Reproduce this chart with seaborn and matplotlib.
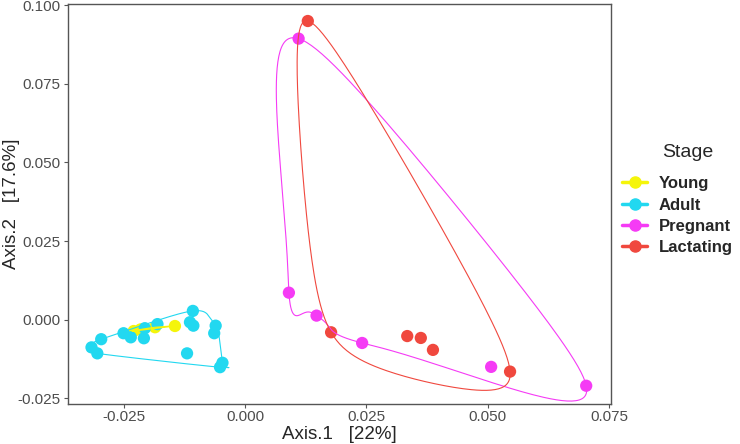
import matplotlib
matplotlib.use("Agg")
import matplotlib.pyplot as plt
from matplotlib.lines import Line2D
import seaborn as sns
import pandas as pd
import numpy as np

sns.set_style("white")
plt.rcParams['font.family'] = ['Liberation Sans', 'DejaVu Sans']

# values
stages = ['Young', 'Adult', 'Pregnant', 'Lactating']
colours = ['#F5F50A', '#22D8F0', '#F53BF5', '#F0483E']

young_x = [-0.0230, -0.0216, -0.0186, -0.0145]
young_y = [-0.0036, -0.0031, -0.0024, -0.0020]

adult_x = [-0.0108, -0.0114, -0.0107, -0.0061, -0.0064, -0.0047, -0.0052, -0.0120,
           -0.0297, -0.0317, -0.0305, -0.0251, -0.0236, -0.0209, -0.0207, -0.0181]
adult_y = [0.0028, -0.0008, -0.0019, -0.0019, -0.0043, -0.0137, -0.0151, -0.0107,
           -0.0062, -0.0088, -0.0107, -0.0043, -0.0056, -0.0059, -0.0027, -0.0014]

pregnant_x = [0.0110, 0.0090, 0.0147, 0.0241, 0.0507, 0.0703]
pregnant_y = [0.0894, 0.0086, 0.0013, -0.0074, -0.0150, -0.0210]

lactating_x = [0.0129, 0.0177, 0.0334, 0.0362, 0.0387, 0.0546]
lactating_y = [0.0950, -0.0040, -0.0052, -0.0058, -0.0096, -0.0165]

xs = [young_x, adult_x, pregnant_x, lactating_x]
ys = [young_y, adult_y, pregnant_y, lactating_y]
df = pd.concat([pd.DataFrame({'Axis.1': x, 'Axis.2': y, 'Stage': s})
                for x, y, s in zip(xs, ys, stages)], ignore_index=True)


# convex hull (monotone chain) + closed x-spline, like ggalt::geom_encircle
def hull(p):
    idx = sorted(range(len(p)), key=lambda i: (p[i][0], p[i][1]))
    def cross(o, a, b):
        return (a[0]-o[0])*(b[1]-o[1]) - (a[1]-o[1])*(b[0]-o[0])
    lower, upper = [], []
    for i in idx:
        while len(lower) >= 2 and cross(p[lower[-2]], p[lower[-1]], p[i]) <= 0:
            lower.pop()
        lower.append(i)
    for i in reversed(idx):
        while len(upper) >= 2 and cross(p[upper[-2]], p[upper[-1]], p[i]) <= 0:
            upper.pop()
        upper.append(i)
    return p[lower[:-1] + upper[:-1]]


def g_blend(u, q):
    return u*(q + u*(2*q + u*(8 - 12*q + u*(14*q - 11 + u*(4 - 5*q)))))


def h_blend(u, q):
    return q*u*(1 + 2*u - 2*u**3 - u**4)


def xspline_closed(P, s=-0.5, steps=80):
    q = -s
    n = len(P)
    t = np.linspace(0, 1, steps, endpoint=False)[:, None]
    out = []
    for k in range(n):
        p0, p1, p2, p3 = P[k-1], P[k], P[(k+1) % n], P[(k+2) % n]
        a0, a1 = h_blend(-t, q), g_blend(1-t, q)
        a2, a3 = g_blend(t, q), h_blend(t-1, q)
        out.append((a0*p0 + a1*p1 + a2*p2 + a3*p3) / (a0 + a1 + a2 + a3))
    out = np.vstack(out)
    return np.vstack([out, out[:1]])


fig = plt.figure(figsize=(7.4, 4.44), dpi=100)
ax = fig.add_axes([67.5/740, 40.5/444, 543/740, 399.5/444])
ax.set_xlim(-0.03665, 0.07531)
ax.set_ylim(-0.02665, 0.10041)

sns.scatterplot(data=df, x='Axis.1', y='Axis.2', hue='Stage', hue_order=stages,
                palette=colours, s=78, linewidth=0, legend=False, ax=ax, zorder=2)

for x, y, c in zip(xs, ys, colours):
    pts = ax.transData.transform(np.column_stack([x, y]))
    curve = xspline_closed(hull(pts))
    curve = ax.transData.inverted().transform(curve)
    ax.plot(curve[:, 0], curve[:, 1], color=c, lw=0.8, zorder=3)

ax.set_xticks([-0.025, 0.0, 0.025, 0.05, 0.075])
ax.set_xticklabels(['-0.025', '0.000', '0.025', '0.050', '0.075'])
ax.set_yticks([-0.025, 0.0, 0.025, 0.05, 0.075, 0.1])
ax.set_yticklabels(['-0.025', '0.000', '0.025', '0.050', '0.075', '0.100'])
ax.tick_params(axis='both', direction='out', length=3, width=0.8, color='#555555',
               labelsize=11, labelcolor='#4D4D4D', pad=2, bottom=True, left=True)
for sp in ax.spines.values():
    sp.set_color('#555555')
    sp.set_linewidth(1)
ax.set_xlabel('Axis.1   [22%]', fontsize=13.5, labelpad=1)
ax.set_ylabel('Axis.2   [17.6%]', fontsize=13.5, va='center')
ax.yaxis.set_label_coords(-0.104, 0.5)
ax.grid(False)

# legend: title as its own text, entries below
fig.text(688/740, 1 - 152/444, 'Stage', fontsize=14, ha='center', va='center')
handles = [Line2D([0], [0], color=c, lw=2.5, marker='o', markersize=8) for c in colours]
leg = fig.legend(handles, stages, loc='upper left',
                 bbox_to_anchor=(614/740, 1 - 168/444), frameon=False, borderpad=0,
                 prop={'weight': 'bold', 'size': 12},
                 handlelength=1.5, handletextpad=0.7, labelspacing=0.38)

plt.savefig('out.png', dpi=100)
